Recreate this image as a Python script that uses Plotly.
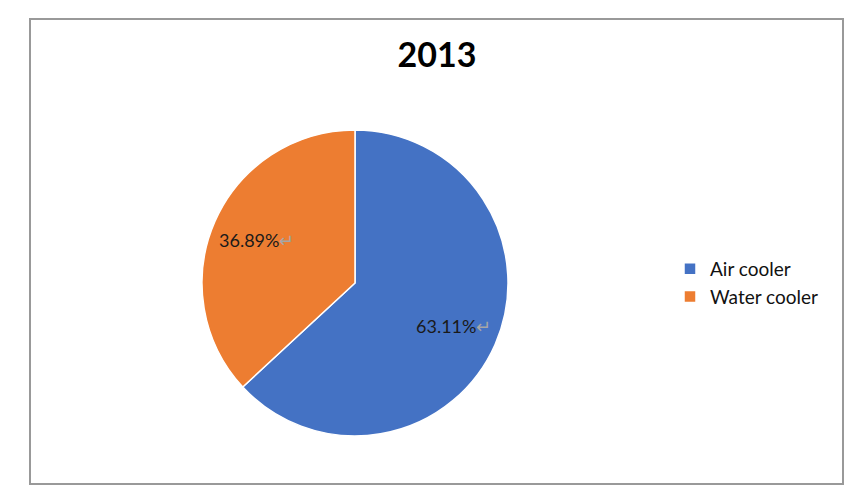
import math
import plotly.graph_objects as go

labels = ["Air cooler", "Water cooler"]
values = [63.11, 36.89]
colors = ["#4472C4", "#ED7D31"]
title_text = "2013"

W, H = 859, 494
cx, cy, r = 355, 283, 153
label_radius = 0.70

fig = go.Figure(go.Pie(
    labels=labels,
    values=values,
    sort=False,
    direction="clockwise",
    rotation=0,
    marker=dict(colors=colors, line=dict(color="white", width=1.5)),
    textinfo="none",
    domain=dict(x=[(cx - r) / W, (cx + r) / W], y=[(H - cy - r) / H, (H - cy + r) / H]),
    hoverinfo="label+percent",
))

# data labels placed at the mid-angle of each slice
total = sum(values)
annotations = []
cum = 0.0
for v in values:
    mid = (cum + v / 2) / total * 2 * math.pi
    cum += v
    px = cx + label_radius * r * math.sin(mid)
    py = cy - label_radius * r * math.cos(mid)
    annotations.append(dict(
        x=px / W, y=1 - py / H, xref="paper", yref="paper",
        text=f"{v:.2f}%<span style='color:#a6a6a6'>↵</span>",
        showarrow=False, xanchor="center", yanchor="middle",
        font=dict(family="Lato", size=18, color="#1a1a1a"),
    ))

fig.update_layout(
    width=W, height=H,
    margin=dict(l=0, r=0, t=0, b=0),
    paper_bgcolor="white",
    title=dict(text=title_text, x=437 / W, xanchor="center", y=1 - 55 / H, yanchor="middle",
               font=dict(family="Lato", size=34, color="black", weight="bold")),
    legend=dict(x=670 / W, y=1 - 283 / H, xanchor="left", yanchor="middle",
                font=dict(family="Lato", size=19, color="#111111"),
                itemwidth=30, tracegroupgap=0),
    annotations=annotations,
    shapes=[dict(type="rect", xref="paper", yref="paper",
                 x0=30 / W, x1=843 / W, y0=(H - 484) / H, y1=(H - 19) / H,
                 line=dict(color="#999999", width=2))],
)

fig.write_html("out.html", config={"displayModeBar": False},
               post_script="document.body.style.margin='0px';")
